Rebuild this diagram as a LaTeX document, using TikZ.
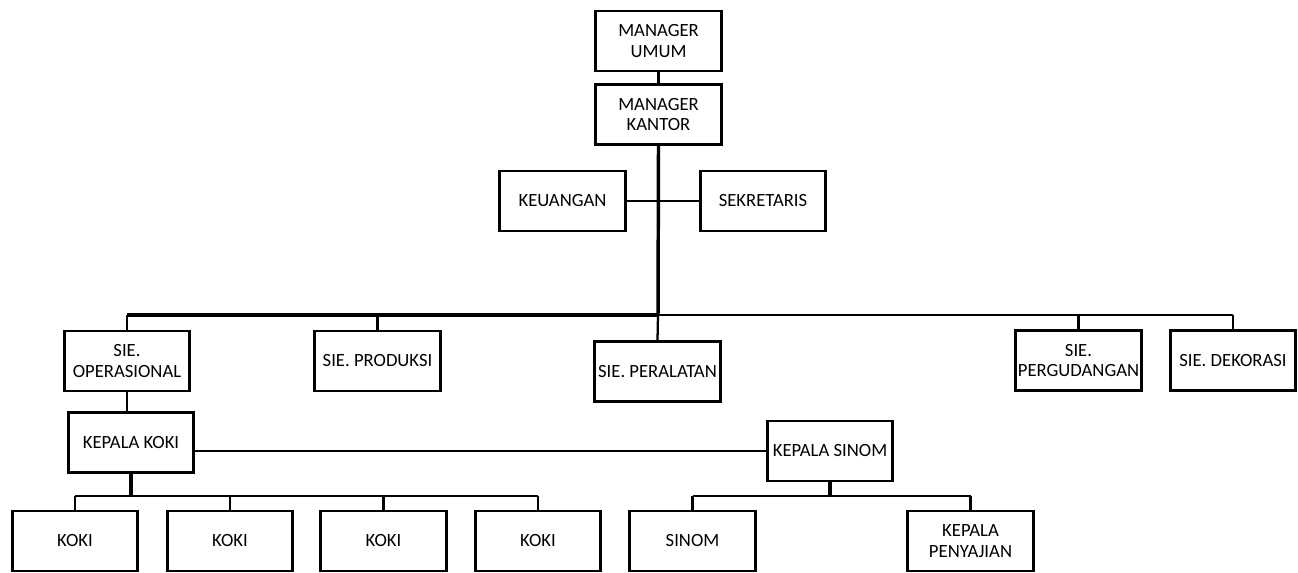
\documentclass[tikz,border=0pt]{standalone}
\usepackage{fontspec}
\setmainfont{Carlito}
\begin{document}
\begin{tikzpicture}[x=0.75pt,y=-0.75pt,
  box/.style={draw, line width=2.1pt, minimum width=94pt, minimum height=45pt,
    align=center, inner sep=0pt, font=\fontsize{14}{15.6}\selectfont},
  thinline/.style={line width=1.7pt},
  thickline/.style={line width=2.6pt}]
\useasboundingbox (0,0) rectangle (1298,573);
% nodes
\node[box] (mu) at (658.5,41) {MANAGER\\UMUM};
\node[box] (mk) at (658.5,114.5) {MANAGER\\KANTOR};
\node[box] (keu) at (562.5,201) {KEUANGAN};
\node[box] (sek) at (763,201) {SEKRETARIS};
\node[box] (sop) at (127,361) {SIE.\\OPERASIONAL};
\node[box] (spr) at (377.5,361) {SIE. PRODUKSI};
\node[box] (spe) at (657.5,371.5) {SIE. PERALATAN};
\node[box] (spg) at (1078.5,360.5) {SIE.\\PERGUDANGAN};
\node[box] (sde) at (1233,360.5) {SIE. DEKORASI};
\node[box] (kk) at (131,442.5) {KEPALA KOKI};
\node[box] (ks) at (830,451) {KEPALA SINOM};
\node[box] (k1) at (75,541) {KOKI};
\node[box] (k2) at (230,541) {KOKI};
\node[box] (k3) at (383.5,541) {KOKI};
\node[box] (k4) at (538,541) {KOKI};
\node[box] (si) at (692.5,541) {SINOM};
\node[box] (kp) at (970.5,541) {KEPALA\\PENYAJIAN};
% coordinates
\coordinate (bm) at (658,315);
\coordinate (bl) at (127,315);
\coordinate (br) at (1233,315);
\coordinate (kkb) at (131,496);
\coordinate (ksb) at (830,496);
% connectors
\draw[thinline] (mu.south) -- (mk.north);
\draw[thickline] (mk.south) -- (bm);
\draw[thinline] (keu.east) -- (sek.west);
\draw[thickline] (bl) -- (bm);
\draw[thinline] (bm) -- (br);
\draw[thinline] (bl) -- (sop.north);
\draw[thinline] (spr.north |- bm) -- (spr.north);
\draw[thinline] (bm) -- (spe.north);
\draw[thinline] (spg.north |- bm) -- (spg.north);
\draw[thinline] (br) -- (sde.north);
\draw[thinline] (sop.south) -- (sop.south |- kk.north);
\draw[thinline] (ks.west) -- (ks.west -| kk.east);
\draw[thickline] (kk.south) -- (kkb);
\draw[thinline] (k1.north |- kkb) -- (k4.north |- kkb);
\foreach \k in {k1,k2,k3,k4} \draw[thinline] (\k.north |- kkb) -- (\k.north);
\draw[thickline] (ks.south) -- (ksb);
\draw[thinline] (si.north |- ksb) -- (kp.north |- ksb);
\foreach \k in {si,kp} \draw[thinline] (\k.north |- ksb) -- (\k.north);
\end{tikzpicture}
\end{document}
